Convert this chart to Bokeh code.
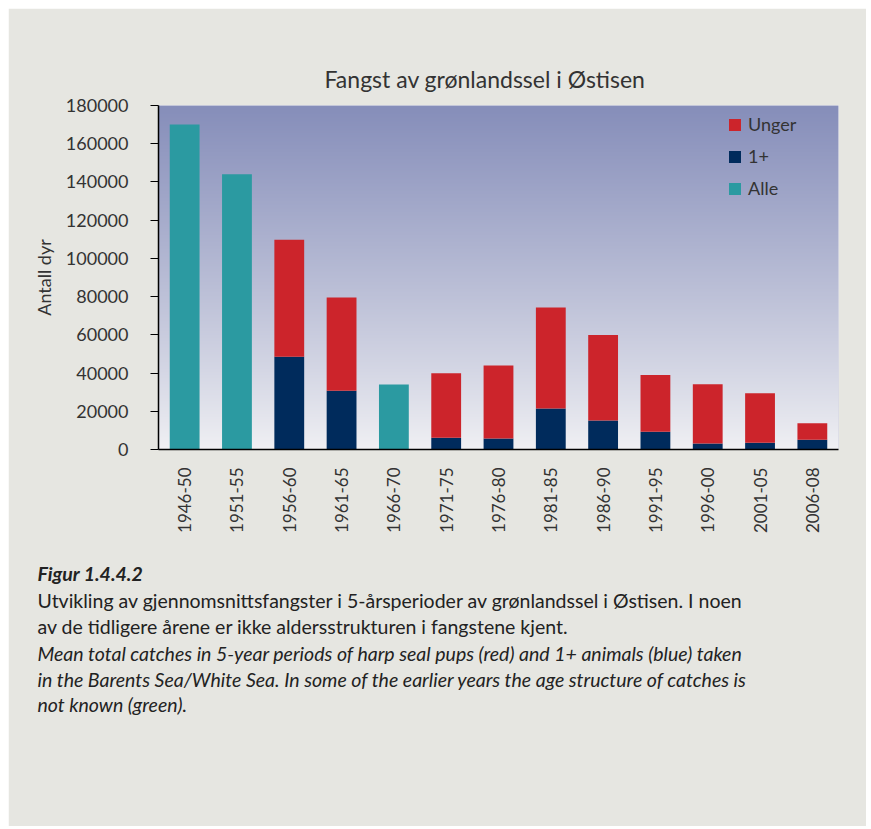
import math
import numpy as np
from bokeh.plotting import figure
from bokeh.models import (ColumnDataSource, FactorRange, Range1d, FixedTicker, NumeralTickFormatter,
                          Legend, LegendItem, Title)
from bokeh.embed import file_html
from bokeh.resources import INLINE

# ---------------- data ----------------
periods = ["1946-50", "1951-55", "1956-60", "1961-65", "1966-70", "1971-75", "1976-80",
           "1981-85", "1986-90", "1991-95", "1996-00", "2001-05", "2006-08"]
alle = [170000, 144000, 0, 0, 34000, 0, 0, 0, 0, 0, 0, 0, 0]
ettpluss = [0, 0, 48500, 30800, 0, 6100, 5800, 21500, 15200, 9300, 3200, 3500, 5100]
unger = [0, 0, 61300, 48700, 0, 33800, 38200, 52800, 44700, 29700, 30900, 25900, 8600]
y_ticks = [0, 20000, 40000, 60000, 80000, 100000, 120000, 140000, 160000, 180000]

title_text = "Fangst av grønlandssel i Østisen"
y_label = "Antall dyr"
caption = [
    ("Figur 1.4.4.2", "bold italic"),
    ("Utvikling av gjennomsnittsfangster i 5-årsperioder av grønlandssel i Østisen. I noen", "normal"),
    ("av de tidligere årene er ikke aldersstrukturen i fangstene kjent.", "normal"),
    ("Mean total catches in 5-year periods of harp seal pups (red) and 1+ animals (blue) taken", "italic"),
    ("in the Barents Sea/White Sea. In some of the earlier years the age structure of catches is", "italic"),
    ("not known (green).", "italic"),
]
caption_standoff = [4, 0, 2, 2, 0, 0]

RED = "#cc242b"
NAVY = "#002b5c"
TEAL = "#2b9aa1"
PAGE_BG = "#e6e6e1"
TXT = "#333333"
FONT = "Lato"

source = ColumnDataSource(data=dict(period=periods, alle=alle, ettpluss=ettpluss, unger=unger))

y_max = y_ticks[-1]
p = figure(width=858, height=818, title=None, output_backend="svg", toolbar_location=None,
           x_range=FactorRange(*periods), y_range=Range1d(0, y_max),
           min_border_left=150, min_border_right=28, min_border_top=97, min_border_bottom=377)
p.margin = (8, 0, 0, 8)
p.border_fill_color = PAGE_BG
p.background_fill_color = "#c0c2d8"
p.outline_line_color = None
p.xgrid.visible = False
p.ygrid.visible = False

# gradient background for the plot area
H = 344
t = np.linspace(0.0, 1.0, H)[:, None]
bottom_c = np.array([241, 241, 244], dtype=float)
top_c = np.array([134, 142, 186], dtype=float)
rgb = bottom_c + (top_c - bottom_c) * t ** 0.9
img = np.zeros((H, 2), dtype=np.uint32)
view = img.view(dtype=np.uint8).reshape((H, 2, 4))
for k in range(3):
    view[:, :, k] = rgb[:, k:k + 1].astype(np.uint8)
view[:, :, 3] = 255
p.image_rgba(image=[img], x=0, y=0, dw=len(periods), dh=y_max)

# bars
stack = p.vbar_stack(["ettpluss", "unger"], x="period", width=0.57, color=[NAVY, RED],
                     line_color=None, source=source)
r_alle = p.vbar(x="period", top="alle", width=0.57, color=TEAL, line_color=None, source=source)

# axes
p.yaxis.ticker = FixedTicker(ticks=y_ticks)
p.yaxis.formatter = NumeralTickFormatter(format="0")
p.yaxis.axis_line_color = "black"
p.yaxis.axis_line_width = 1.5
p.yaxis.major_tick_line_color = "black"
p.yaxis.major_tick_out = 8
p.yaxis.major_tick_in = 0
p.yaxis.minor_tick_line_color = None
p.yaxis.major_label_standoff = 22
p.yaxis.major_label_text_font = FONT
p.yaxis.major_label_text_font_size = "18px"
p.yaxis.major_label_text_color = TXT
p.yaxis.axis_label = y_label
p.yaxis.axis_label_text_font = FONT
p.yaxis.axis_label_text_font_style = "normal"
p.yaxis.axis_label_text_font_size = "18px"
p.yaxis.axis_label_text_color = TXT
p.yaxis.axis_label_standoff = 8

p.xaxis.axis_line_color = "black"
p.xaxis.axis_line_width = 1.5
p.xaxis.major_tick_line_color = None
p.xaxis.minor_tick_line_color = None
p.xaxis.major_label_orientation = math.pi / 2
p.xaxis.major_label_standoff = 12
p.xaxis.major_label_text_font = FONT
p.xaxis.major_label_text_font_size = "17px"
p.xaxis.major_label_text_color = TXT

# legend
legend = Legend(items=[LegendItem(label="Unger", renderers=[stack[1]]),
                       LegendItem(label="1+", renderers=[stack[0]]),
                       LegendItem(label="Alle", renderers=[r_alle])],
                location=(569, 250), padding=0, margin=0, spacing=10,
                glyph_width=15, glyph_height=15, label_height=20, label_standoff=6,
                background_fill_alpha=0, border_line_color=None,
                label_text_font=FONT, label_text_font_size="18px", label_text_color=TXT)
p.add_layout(legend)

# chart title
p.add_layout(Title(text=title_text, align="left", offset=166, standoff=25,
                   text_font=FONT, text_font_size="23px", text_font_style="normal",
                   text_color=TXT), "above")

# spacer between the x-axis labels and the caption
p.add_layout(Title(text=" ", align="left", standoff=5, text_font=FONT,
                   text_font_size="12px", text_color=PAGE_BG), "below")

# caption lines below the x axis
for (txt, style), so in zip(caption, caption_standoff):
    p.add_layout(Title(text=txt, align="left", offset=-121, standoff=so,
                       text_font=FONT, text_font_style=style, text_font_size="19.5px",
                       text_color="#222222"), "below")

open("out.html", "w").write(file_html(p, INLINE))
